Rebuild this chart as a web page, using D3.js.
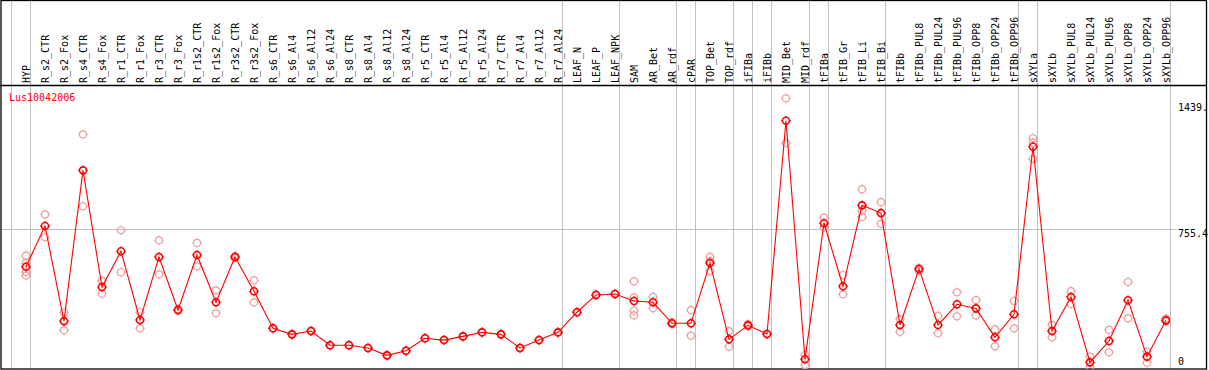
<!DOCTYPE html>
<html>
<head>
<meta charset="utf-8">
<script src="https://cdn.jsdelivr.net/npm/d3@7"></script>
<style>
  html, body { margin: 0; padding: 0; background: #fff; }
  svg { display: block; }
  text { font-family: "DejaVu Sans Mono", "Liberation Mono", monospace; font-size: 10px; }
</style>
</head>
<body>
<svg id="chart" width="1209" height="370"></svg>
<script>
const title = "Lus10042006";
const categories = ["HYP","R_s2_CTR","R_s2_Fox","R_s4_CTR","R_s4_Fox","R_r1_CTR","R_r1_Fox","R_r3_CTR","R_r3_Fox","R_r1s2_CTR","R_r1s2_Fox","R_r3s2_CTR","R_r3s2_Fox","R_s6_CTR","R_s6_Al4","R_s6_Al12","R_s6_Al24","R_s8_CTR","R_s8_Al4","R_s8_Al12","R_s8_Al24","R_r5_CTR","R_r5_Al4","R_r5_Al12","R_r5_Al24","R_r7_CTR","R_r7_Al4","R_r7_Al12","R_r7_Al24","LEAF_N","LEAF_P","LEAF_NPK","SAM","AR_Bet","AR_rdf","cPAR","TOP_Bet","TOP_rdf","iFIBa","iFIBb","MID_Bet","MID_rdf","tFIBa","tFIB_Gr","tFIB_Li","tFIB_Bi","tFIBb","tFIBb_PUL8","tFIBb_PUL24","tFIBb_PUL96","tFIBb_OPP8","tFIBb_OPP24","tFIBb_OPP96","sXYLa","sXYLb","sXYLb_PUL8","sXYLb_PUL24","sXYLb_PUL96","sXYLb_OPP8","sXYLb_OPP24","sXYLb_OPP96"];
const groupStarts = ["HYP","R_s2_CTR","LEAF_N","SAM","cPAR","TOP_Bet","iFIBa","iFIBb","MID_Bet","tFIBa","tFIB_Gr","tFIBb","sXYLa","sXYLb"];
const meanValues = [549,770,254,1072,439,633,260,602,314,613,356,602,416,215,182,200,123,123,108,68,93,161,151,171,193,182,108,151,193,302,396,401,363,356,242,242,569,155,231,184,1341,47,785,443,882,840,233,537,233,345,323,166,291,1200,200,385,30,146,367,61,258];
const replicateValues = [
  [609,570,520,501],[833,709],[302,204],[1267,877],[472,403],[747,519],[302,215],[692,508],[318,310],[678,551],
  [421,296],[607,595],[475,356],[215,215],[182,182],[200,200],[123,123],[123,123],[108,108],[68,68],
  [93,93],[161,161],[151,151],[171,171],[193,193],[182,182],[108,108],[151,151],[193,193],[302,302],
  [396,396],[401,401],[470,383,310,285],[385,323],[247,237],[314,175],[602,579,526],[200,115],[237,225],[184,184],
  [1463,1219],[70,16],[815,763],[504,399],[969,853,819],[899,782],[265,196],[542,526],[282,188],[410,280],
  [368,285],[209,117],[363,215],[1246,1222,1133],[233,166],[417,347],[61,7],[206,85],[466,269],[88,28],
  [267,254]
];
const yTickValues = [1439, 755.4, 0];
const yTickLabels = ["1439.", "755.4", "0"];
const gridValues = [755.4];

const W = 1209, H = 370;
const headerY = 85, bottomY = 369, leftX = 1, rightX = 1207;
const svg = d3.select("#chart");

const x = d3.scaleBand().domain(categories).range([11, 1170]).paddingInner(0).paddingOuter(0);
const px = c => x(c) + 15;
const y = d3.scaleLinear().domain([0, 1439]).range([367.9, 102.7]);

const gray = "#c0c0c0";
const red = "#ff0000";
const pink = "#f0a0a0";

// vertical group separators (full height)
const sepXs = groupStarts.map(c => x(c)).concat([x(categories[categories.length - 1]) + x.bandwidth()]);
svg.append("g").selectAll("line").data(sepXs).join("line")
  .attr("x1", d => Math.round(d) + 0.5).attr("x2", d => Math.round(d) + 0.5)
  .attr("y1", 0).attr("y2", bottomY)
  .attr("stroke", gray).attr("stroke-width", 1);

// horizontal grid
svg.append("g").selectAll("line").data(gridValues).join("line")
  .attr("x1", leftX).attr("x2", 1177)
  .attr("y1", d => Math.round(y(d)) + 0.5).attr("y2", d => Math.round(y(d)) + 0.5)
  .attr("stroke", gray).attr("stroke-width", 1);

// frame
svg.append("rect").attr("x", 1).attr("y", 0.5).attr("width", rightX - 1.5).attr("height", bottomY - 0.5)
  .attr("fill", "none").attr("stroke", "#000").attr("stroke-width", 1.3);
svg.append("line").attr("x1", 0).attr("x2", rightX).attr("y1", headerY + 0.5).attr("y2", headerY + 0.5)
  .attr("stroke", "#000").attr("stroke-width", 1.3);

// column labels
svg.append("g").selectAll("text").data(categories).join("text")
  .attr("transform", d => `translate(${px(d) + 4},83) rotate(-90)`)
  .attr("text-anchor", "start").attr("fill", "#000")
  .text(d => d);

// title
svg.append("text").attr("x", 9).attr("y", 100.5).attr("fill", red).text(title);

// right axis labels
svg.append("g").selectAll("text").data(yTickValues).join("text")
  .attr("x", 1178)
  .attr("y", d => Math.min(y(d) + 8.3, 365))
  .attr("fill", "#000")
  .text((d, i) => yTickLabels[i]);

// plot clip
svg.append("clipPath").attr("id", "clip").append("rect")
  .attr("x", leftX).attr("y", headerY + 1).attr("width", 1170 - leftX).attr("height", bottomY - headerY - 1);
const plot = svg.append("g").attr("clip-path", "url(#clip)");

function marker(g, cx, cy, color, sw) {
  const r = 3.5;
  g.append("circle").attr("cx", cx).attr("cy", cy).attr("r", r)
    .attr("fill", "none").attr("stroke", color).attr("stroke-width", sw);
  [[0,-1],[0,1],[-1,0],[1,0]].forEach(([dx, dy]) => {
    g.append("line")
      .attr("x1", cx + dx * r).attr("y1", cy + dy * r)
      .attr("x2", cx + dx * (r + 1.5)).attr("y2", cy + dy * (r + 1.5))
      .attr("stroke", color).attr("stroke-width", 1);
  });
}

// replicates
const repG = plot.append("g");
categories.forEach((c, i) => {
  replicateValues[i].forEach(v => marker(repG, px(c), y(v), pink, 1.2));
});

// mean line
const line = d3.line().x((d, i) => px(categories[i])).y(d => y(d));
plot.append("path").datum(meanValues).attr("d", line)
  .attr("fill", "none").attr("stroke", red).attr("stroke-width", 1.1);

// means
const meanG = plot.append("g");
categories.forEach((c, i) => marker(meanG, px(c), y(meanValues[i]), red, 1.6));
</script>
</body>
</html>
